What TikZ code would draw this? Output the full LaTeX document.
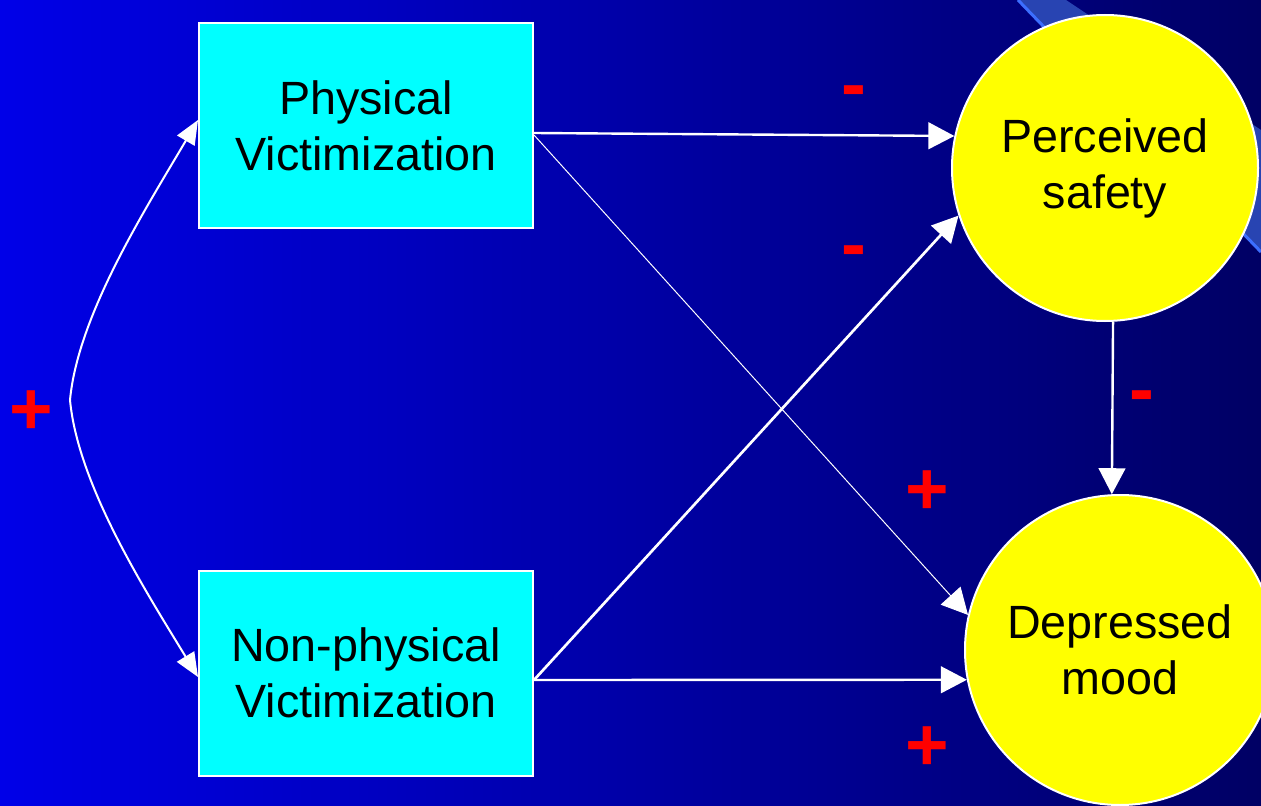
\documentclass[tikz,border=0pt]{standalone}
\usepackage{fontspec}
\setmainfont{Liberation Sans}
\usepackage{tikz}
\usetikzlibrary{arrows.meta}

\definecolor{bgleft}{RGB}{0,0,232}
\definecolor{bgmid}{RGB}{0,0,190}
\definecolor{bgright}{RGB}{0,0,100}
\definecolor{stripe}{RGB}{40,68,178}
\definecolor{stripeedge}{RGB}{60,110,255}
\definecolor{boxcyan}{RGB}{0,255,255}
\definecolor{circyellow}{RGB}{255,255,0}
\definecolor{signred}{RGB}{255,0,0}

\begin{document}
\begin{tikzpicture}[x=0.75pt,y=0.75pt,yscale=-1,xscale=1,
    varbox/.style={draw=white, line width=1.5pt, fill=boxcyan, minimum width=250.5pt, minimum height=153.75pt, align=center, inner sep=0pt, font=\fontsize{35}{42}\selectfont},
    outcome/.style={circle, draw=white, line width=1.5pt, fill=circyellow, align=center, inner sep=0pt, font=\fontsize{35}{42}\selectfont},
    sign/.style={text=signred, inner sep=0pt, font=\bfseries\fontsize{56}{56}\selectfont},
    link/.style={draw=white, line width=1.8pt, -{Triangle[length=19.5pt,width=20pt]}}]
        \useasboundingbox (0,0) rectangle (1261,806);
        \clip (0,0) rectangle (1261,806);

        % Background
        \shade [left color=bgleft, middle color=bgmid, right color=bgright] (0,0) rectangle (1261,806);
        \fill [stripe] (1018,0) -- (1066,0) -- (1261,130) -- (1261,252) -- cycle;
        \draw [stripeedge, line width=2.25pt] (1018,0) -- (1261,252);

        % Boxes
        \node [varbox] (phys) at (366,126) {Physical\\Victimization};
        \node [varbox] (nonph) at (366,673) {Non-physical\\Victimization};

        % Circles
        \node [outcome, minimum size=229.5pt] (safe) at (1105,168) {Perceived\\safety};
        \node [outcome, minimum size=232.5pt] (mood) at (1120,650) {Depressed\\mood};

        %Curved Lines
        \coordinate (tip) at (70,400);
        \draw [white, line width=1.5pt, {Triangle[length=18pt,width=15pt]}-{Triangle[length=18pt,width=15pt]}]
            ([yshift=-4.5pt]phys.west) .. controls (145,210) and (78,315) .. (tip)
            .. controls (78,485) and (145,590) .. ([yshift=3pt]nonph.west);

        %Straight Lines
        \draw [link] ([yshift=5.25pt]phys.east) -- (safe.168.7);
        \draw [link, line width=0.75pt] ([yshift=6.75pt]phys.east) -- (mood.167.3);
        \draw [link, line width=2pt] ([yshift=5.25pt]nonph.east) -- (safe.198.2);
        \draw [link] ([yshift=5.25pt]nonph.east) -- (mood.191.2);
        \draw [link] (safe.-87) -- (mood.93);

        % Text Node
        \node [sign] (s1) at (854,98) {-};
        \node [sign] (s2) at (854,258) {-};
        \node [sign] (s3) at (1142,403) {-};
        \node [sign] (s4) at (31,413) {+};
        \node [sign] (s5) at (927,493) {+};
        \node [sign] (s6) at (927,749) {+};
\end{tikzpicture}
\end{document}
